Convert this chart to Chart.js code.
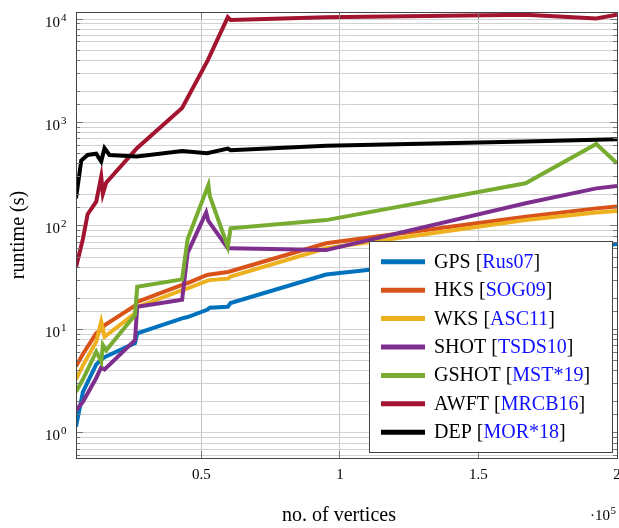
<!DOCTYPE html>
<html><head><meta charset="utf-8">
<script src="https://cdn.jsdelivr.net/npm/chart.js@4/dist/chart.umd.min.js"></script>
<style>html,body{margin:0;padding:0;background:#fff;}canvas{display:block;}</style>
</head><body>
<canvas id="c" width="619" height="528"></canvas>
<script>
// ---- data ----
const seriesNames = ['GPS', 'HKS', 'WKS', 'SHOT', 'GSHOT', 'AWFT', 'DEP'];
const seriesRefs  = ['Rus07', 'SOG09', 'ASC11', 'TSDS10', 'MST*19', 'MRCB16', 'MOR*18'];
const seriesColors = ['#0072BD', '#D95319', '#EDB120', '#7E2F8E', '#77AC30', '#A2142F', '#000000'];

const gpsX = [4700, 7200, 12000, 13800, 15000, 26000, 26800, 43000, 45000, 52000, 53000, 59500, 60500, 95000, 167000, 192500, 200000];
const gpsY = [1.15, 2.5, 4.6, 5.1, 5.4, 7.4, 9.2, 12.8, 13.2, 15.5, 16.2, 16.6, 18, 34, 55, 63, 67];

const hksX = [4700, 7200, 12000, 13800, 15000, 26000, 26800, 43000, 45000, 52000, 53000, 59500, 60500, 95000, 167000, 192500, 200000];
const hksY = [4.4, 5.8, 9.2, 9.9, 11, 17, 18.5, 27, 28, 33.6, 34, 36, 36.5, 68, 123, 148, 154];

const wksX = [4700, 7200, 12000, 13800, 15000, 26000, 26800, 43000, 45000, 52000, 53000, 59500, 60500, 95000, 167000, 192500, 200000];
const wksY = [3.3, 4.5, 7.6, 11.9, 8.5, 14.3, 16.5, 24, 25, 29.5, 30, 31, 32.4, 61, 114, 135, 140];

const shotX = [4700, 7200, 12000, 13800, 15000, 26000, 26800, 43000, 45000, 51700, 52500, 59500, 60500, 95000, 167000, 192500, 200000];
const shotY = [1.65, 2.0, 3.4, 4.3, 4.1, 7.9, 16.6, 19.4, 55, 135, 112, 61, 61, 58.5, 166, 231, 244];

const gshotX = [4700, 7200, 12000, 13800, 14400, 15600, 26000, 26800, 43000, 45000, 52500, 53000, 59500, 60500, 95000, 167000, 192500, 200000];
const gshotY = [2.5, 3.3, 6.1, 4.9, 7.1, 6.3, 13.8, 25.9, 30.5, 75, 250, 195, 63, 95, 114, 259, 620, 404];

const awftX = [4700, 7200, 8900, 12000, 13800, 14400, 15600, 26700, 43000, 52300, 59500, 60500, 95000, 167000, 192500, 200000];
const awftY = [40, 75, 130, 172, 300, 205, 262, 565, 1380, 4000, 10400, 9800, 10400, 11000, 10100, 11000];

const depX = [4700, 6600, 8900, 12000, 13800, 15000, 16800, 26700, 43000, 52000, 59500, 60500, 95000, 167000, 192500, 200000];
const depY = [185, 430, 486, 500, 420, 565, 486, 470, 530, 505, 560, 540, 595, 655, 680, 690];

const xTickValues = [50000, 100000, 150000, 200000];
const xTickLabels = ['0.5', '1', '1.5', '2'];
const yDecadeExponents = [0, 1, 2, 3, 4];

const allX = [gpsX, hksX, wksX, shotX, gshotX, awftX, depX];
const allY = [gpsY, hksY, wksY, shotY, gshotY, awftY, depY];

// ---- chart ----
const FONT = '"Liberation Serif", "Times New Roman", serif';
const align = (p) => Math.round(p - 0.5) + 0.5;

const datasets = seriesNames.map((name, i) => ({
  label: name,
  data: allX[i].map((x, j) => ({ x: x, y: allY[i][j] })),
  borderColor: seriesColors[i],
  backgroundColor: seriesColors[i],
  borderWidth: 4,
  pointRadius: 0,
  tension: 0,
  fill: false,
  borderJoinStyle: 'miter',
  order: seriesNames.length - i
}));

const overlay = {
  id: 'overlay',
  afterDatasetsDraw(chart) {
    const ctx = chart.ctx, a = chart.chartArea;
    const ys = chart.scales.y, xs = chart.scales.x;
    ctx.save();
    ctx.strokeStyle = '#777';
    ctx.lineWidth = 1;
    ctx.beginPath();
    ys.ticks.forEach(t => {
      const v = t.value;
      if (v <= ys.min * 1.001 || v >= ys.max * 0.999) return;
      const lg = Math.log10(v);
      const major = Math.abs(lg - Math.round(lg)) < 1e-6;
      const len = major ? 7 : 4;
      const p = align(ys.getPixelForValue(v));
      ctx.moveTo(a.left, p); ctx.lineTo(a.left + len, p);
      ctx.moveTo(a.right, p); ctx.lineTo(a.right - len, p);
    });
    xs.ticks.forEach(t => {
      const p = align(xs.getPixelForValue(t.value));
      ctx.moveTo(p, a.bottom); ctx.lineTo(p, a.bottom - 7);
      ctx.moveTo(p, a.top); ctx.lineTo(p, a.top + 7);
    });
    ctx.stroke();
    ctx.strokeStyle = '#444';
    ctx.lineWidth = 1;
    const l = align(a.left), r = align(a.right), tp = align(a.top), b = align(a.bottom);
    ctx.strokeRect(l, tp, r - l, b - tp);
    ctx.restore();
  },
  afterDraw(chart) {
    const ctx = chart.ctx, a = chart.chartArea;
    const ys = chart.scales.y, xs = chart.scales.x;
    ctx.save();
    ctx.fillStyle = '#000';
    ys.ticks.forEach(t => {
      const lg = Math.log10(t.value);
      if (Math.abs(lg - Math.round(lg)) > 1e-6) return;
      const e = Math.round(lg);
      if (!yDecadeExponents.includes(e)) return;
      const p = ys.getPixelForValue(t.value);
      ctx.font = '15px ' + FONT;
      ctx.textAlign = 'right';
      ctx.textBaseline = 'alphabetic';
      ctx.fillText('10', 60, p + 7.5);
      ctx.font = '11px ' + FONT;
      ctx.textAlign = 'left';
      ctx.fillText(String(e), 61, p + 1.5);
    });
    ctx.font = '15px ' + FONT;
    ctx.textAlign = 'center';
    ctx.textBaseline = 'alphabetic';
    xs.ticks.forEach(t => {
      const idx = xTickValues.indexOf(t.value);
      if (idx < 0) return;
      ctx.fillText(xTickLabels[idx], xs.getPixelForValue(t.value), 478.5);
    });
    ctx.textAlign = 'right';
    ctx.font = '11px ' + FONT;
    ctx.fillText('5', 616, 514);
    const w5 = ctx.measureText('5').width;
    ctx.font = '15px ' + FONT;
    ctx.fillText('\u00B710', 616 - w5 - 0.5, 520);
    ctx.font = '20px ' + FONT;
    ctx.textAlign = 'center';
    ctx.fillText('no. of vertices', 339, 521);
    ctx.save();
    ctx.translate(19, (a.top + a.bottom) / 2);
    ctx.rotate(-Math.PI / 2);
    ctx.textBaseline = 'middle';
    ctx.fillText('runtime (s)', 0, 0);
    ctx.restore();
    const bx = 369.5, by = 241.5, bw = 243, bh = 211;
    ctx.fillStyle = '#fff';
    ctx.fillRect(bx, by, bw, bh);
    ctx.strokeStyle = '#444';
    ctx.lineWidth = 1;
    ctx.strokeRect(bx, by, bw, bh);
    ctx.font = '20px ' + FONT;
    ctx.textAlign = 'left';
    ctx.textBaseline = 'alphabetic';
    seriesNames.forEach((name, i) => {
      const cy = 261.7 + i * 28.43;
      ctx.strokeStyle = seriesColors[i];
      ctx.lineWidth = 5;
      ctx.beginPath();
      ctx.moveTo(381, cy); ctx.lineTo(425, cy);
      ctx.stroke();
      let x = 434;
      const base = cy + 6;
      const parts = [[name + ' [', '#000'], [seriesRefs[i], '#1010ff'], [']', '#000']];
      parts.forEach(([s, c]) => {
        ctx.fillStyle = c;
        ctx.fillText(s, x, base);
        x += ctx.measureText(s).width;
      });
    });
    ctx.restore();
  }
};

new Chart(document.getElementById('c'), {
  type: 'line',
  data: { datasets },
  options: {
    responsive: false,
    animation: false,
    devicePixelRatio: 1,
    layout: { padding: { top: 12, right: 2, left: 0, bottom: 0 } },
    plugins: { legend: { display: false }, tooltip: { enabled: false } },
    scales: {
      x: {
        type: 'linear',
        min: 4700,
        max: 200000,
        afterBuildTicks: (s) => { s.ticks = xTickValues.map(v => ({ value: v })); },
        afterFit: (s) => { s.height = 70; },
        ticks: { display: false },
        grid: { color: '#c4c4c4', lineWidth: 1, drawTicks: false },
        border: { display: false }
      },
      y: {
        type: 'logarithmic',
        min: 0.573,
        max: 11690,
        afterFit: (s) => { s.width = 76; },
        ticks: { display: false, autoSkip: false },
        grid: { color: '#d2d2d2', lineWidth: 1, drawTicks: false },
        border: { display: false }
      }
    }
  },
  plugins: [overlay]
});
</script>
</body></html>
